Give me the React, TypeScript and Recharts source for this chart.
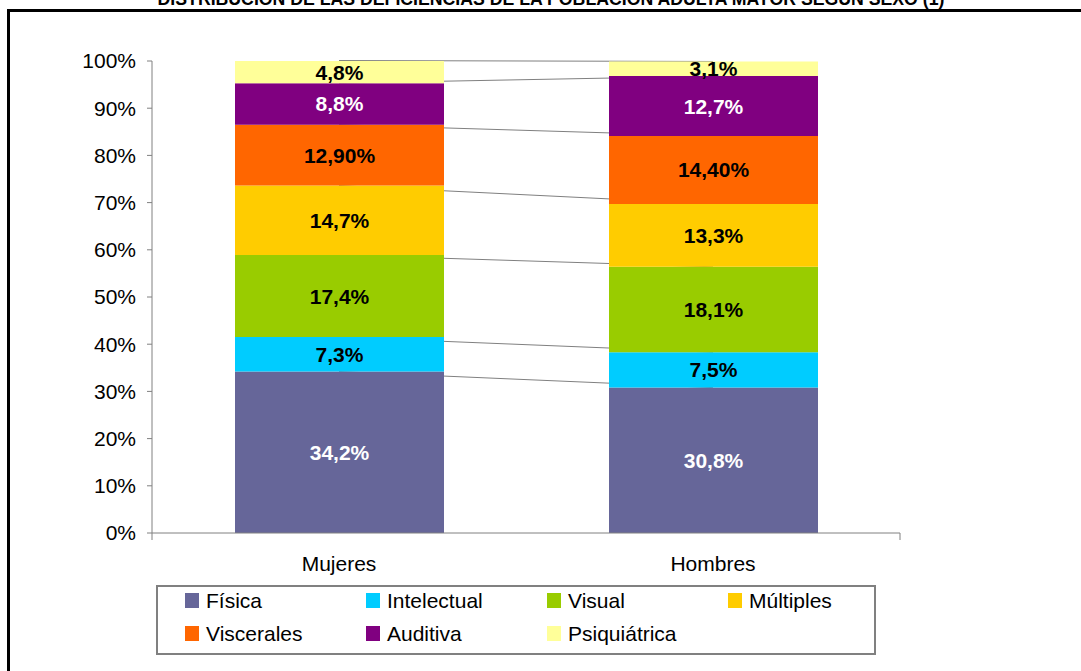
import { Bar, BarChart, LabelList, ReferenceLine, XAxis, YAxis } from 'recharts';

const categories = ['Mujeres', 'Hombres'];
const seriesNames = ['Física', 'Intelectual', 'Visual', 'Múltiples', 'Viscerales', 'Auditiva', 'Psiquiátrica'];
const seriesColors = ['#666699', '#00CCFF', '#99CC00', '#FFCC00', '#FF6600', '#800080', '#FFFF99'];
const labelColors = ['#FFFFFF', '#000000', '#000000', '#000000', '#000000', '#FFFFFF', '#000000'];
const mujeresValues = [34.2, 7.3, 17.4, 14.7, 12.9, 8.8, 4.8];
const hombresValues = [30.8, 7.5, 18.1, 13.3, 14.4, 12.7, 3.1];
const mujeresLabels = ['34,2%', '7,3%', '17,4%', '14,7%', '12,90%', '8,8%', '4,8%'];
const hombresLabels = ['30,8%', '7,5%', '18,1%', '13,3%', '14,40%', '12,7%', '3,1%'];
const yTicks = [0, 10, 20, 30, 40, 50, 60, 70, 80, 90, 100];
const title = 'DISTRIBUCIÓN DE LAS DEFICIENCIAS DE LA POBLACIÓN ADULTA MAYOR SEGÚN SEXO (1)';

const valuesByCategory = [mujeresValues, hombresValues];
const labelsByCategory = [mujeresLabels, hombresLabels];

const data = categories.map((name, c) => {
  const row: Record<string, string | number> = { name };
  seriesNames.forEach((s, i) => {
    row[s] = valuesByCategory[c][i];
    row[s + '_label'] = labelsByCategory[c][i];
  });
  return row;
});

// cumulative tops for the series lines between the two columns
const cumulative = (vals: number[]) => {
  let sum = 0;
  return vals.map((v) => (sum += v));
};
const mujeresTops = cumulative(mujeresValues);
const hombresTops = cumulative(hombresValues);

const font = '"Liberation Sans", Arial, sans-serif';
const axisGrey = '#808080';

export default function App() {
  return (
    <div style={{ position: 'absolute', left: 0, top: 0, width: 1081, height: 671, overflow: 'hidden', background: '#fff', fontFamily: font }}>
      <div
        style={{
          position: 'absolute', left: 157, top: -11, width: 788, textAlign: 'center',
          fontSize: 17.7, fontWeight: 'bold', whiteSpace: 'nowrap', lineHeight: '20px',
        }}
      >
        {title}
      </div>
      <div
        style={{
          position: 'absolute', left: 7, top: 9, width: 1200, height: 800,
          borderTop: '3px solid #000', borderLeft: '3px solid #000',
        }}
      />
      <div style={{ position: 'absolute', left: 0, top: 0 }}>
        <BarChart
          width={1081}
          height={671}
          data={data}
          margin={{ top: 61, right: 181, bottom: 90, left: 0 }}
          barSize={209}
        >
          <XAxis
            xAxisId="a_frame"
            type="number"
            domain={[0, 2]}
            ticks={[0, 1, 2]}
            allowDataOverflow
            tick={() => <g />}
            height={8}
            tickSize={7}
            stroke={axisGrey}
          />
          <XAxis
            xAxisId="b_cat"
            dataKey="name"
            axisLine={false}
            tickLine={false}
            height={40}
            tickMargin={9}
            tick={{ fill: '#000', fontSize: 21, fontFamily: font }}
          />
          <YAxis
            domain={[0, 100]}
            ticks={yTicks}
            allowDataOverflow
            width={152}
            tickSize={5}
            tickMargin={11}
            stroke={axisGrey}
            tickFormatter={(v) => `${v}%`}
            tick={{ fill: '#000', fontSize: 21, fontFamily: font }}
          />
          {mujeresTops.map((top, i) => (
            <ReferenceLine
              key={'sl' + i}
              xAxisId="b_cat"
              segment={[
                { x: categories[0], y: top },
                { x: categories[1], y: hombresTops[i] },
              ]}
              stroke={axisGrey}
              strokeWidth={1}
              ifOverflow="visible"
              zIndex={200}
            />
          ))}
          {seriesNames.map((s, i) => (
            <Bar
              key={s}
              xAxisId="b_cat"
              dataKey={s}
              stackId="a"
              fill={seriesColors[i]}
              isAnimationActive={false}
            >
              <LabelList
                dataKey={s + '_label'}
                position="center"
                fill={labelColors[i]}
                style={{ fontSize: 21, fontWeight: 'bold', fontFamily: font }}
              />
            </Bar>
          ))}
        </BarChart>
      </div>
      <div
        style={{
          position: 'absolute', left: 156, top: 585, width: 720, height: 70,
          border: `2px solid ${axisGrey}`, boxSizing: 'border-box',
        }}
      >
        <div
          style={{
            position: 'absolute', left: 0, top: -3,
            display: 'grid', gridTemplateColumns: 'repeat(4, 181px)', gridAutoRows: '33px',
          }}
        >
          {seriesNames.map((s, i) => (
            <div key={s} style={{ display: 'flex', alignItems: 'center', paddingLeft: 27 }}>
              <span style={{ width: 14, height: 15, background: seriesColors[i], marginRight: 7, flex: 'none' }} />
              <span style={{ fontSize: 21, color: '#000', lineHeight: '24px', whiteSpace: 'nowrap' }}>{s}</span>
            </div>
          ))}
        </div>
      </div>
    </div>
  );
}
